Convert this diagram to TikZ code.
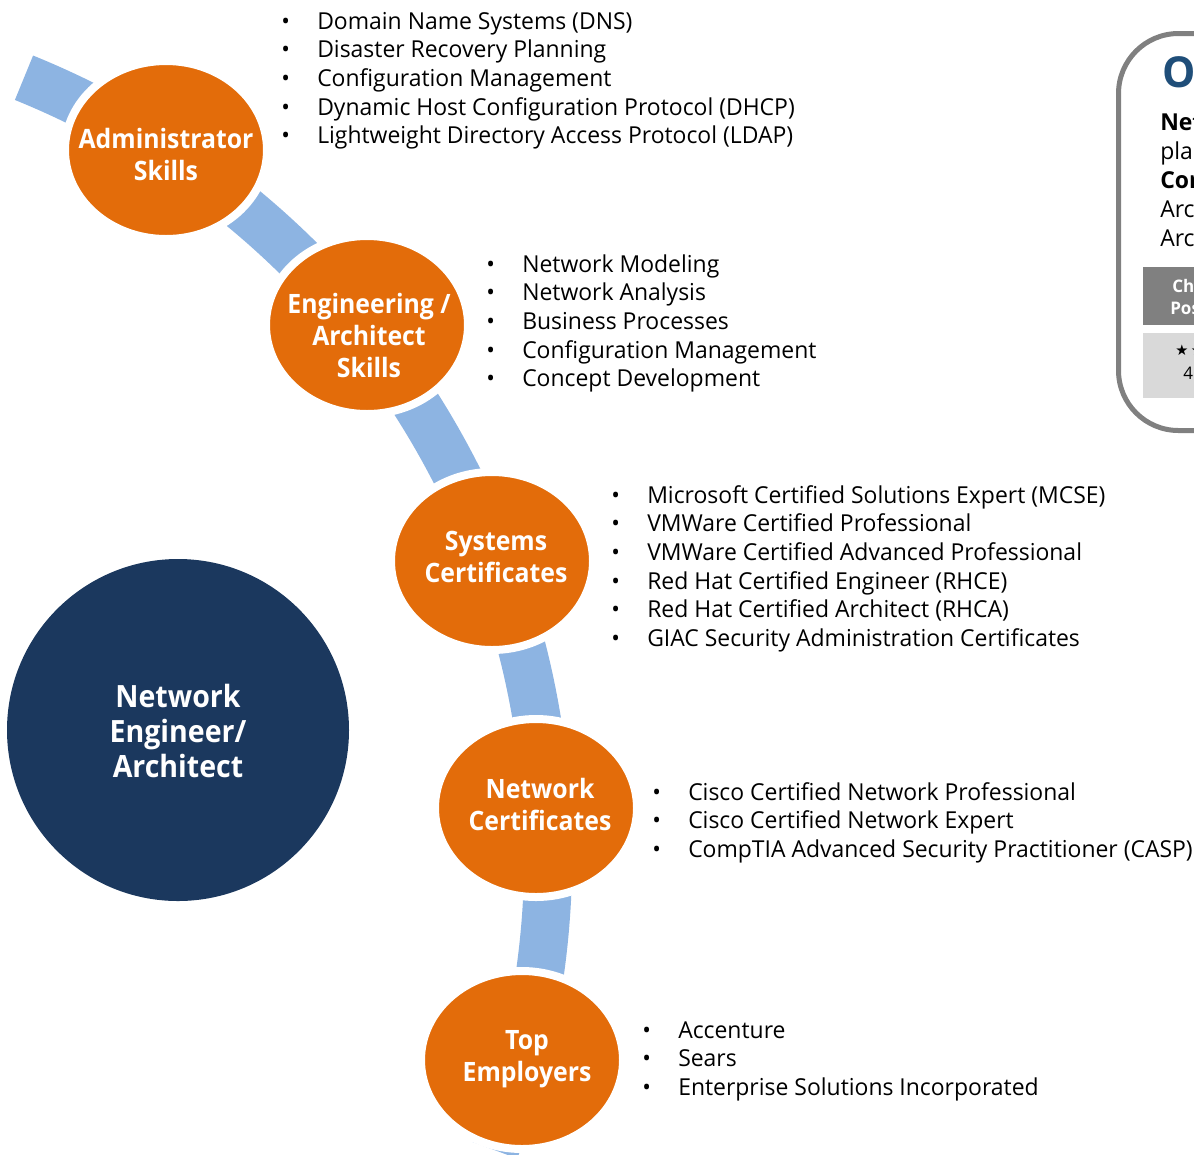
\documentclass[tikz,border=0pt]{standalone}
\usepackage{fontspec}
\setmainfont{Open Sans}[FakeStretch=0.983]
\newfontfamily\lblfam{Open Sans}[FakeStretch=0.93]
\newfontfamily\symfont{DejaVu Sans}
\usetikzlibrary{shapes.geometric,calc}
\definecolor{orng}{RGB}{227,108,10}
\definecolor{bandblue}{RGB}{141,180,226}
\definecolor{navy}{RGB}{27,56,94}
\definecolor{boxgray}{RGB}{128,128,128}
\definecolor{palegray}{RGB}{217,217,217}
\definecolor{titleblue}{RGB}{31,78,121}
\newcommand\listfont{\fontsize{17.5}{21.56}\selectfont}
\newcommand\bl{\makebox[27pt][l]{•}}
\begin{document}
\begin{tikzpicture}[x=0.75pt,y=-0.75pt,
  skill/.style={ellipse, fill=orng, draw=white, line width=6pt,
    minimum width=151.5pt, minimum height=133.5pt, inner sep=0pt},
  skilltext/.style={inner sep=0pt, text=white, align=center,
    font=\lblfam\bfseries\fontsize{20}{24}\selectfont},
  role/.style={circle, fill=navy, minimum size=256.5pt, inner sep=0pt},
  roletext/.style={inner sep=0pt, text=white, align=center,
    font=\lblfam\bfseries\fontsize{23}{26.25}\selectfont},
  band/.style={draw=bandblue, line width=36pt},
  items/.style={anchor=base west, inner sep=0pt, font=\listfont},
  side/.style={anchor=base west, inner sep=0pt, font=\listfont},
  sidehead/.style={anchor=base west, inner sep=0pt, text=white,
    font=\bfseries\fontsize{13}{16.5}\selectfont}]
\useasboundingbox (0,0) rectangle (1194,1154);
\clip (0,0) rectangle (1194,1154);
\coordinate (arcc) at (-292,856);
\draw[band] ($(arcc)+(-67.9:840)$) arc[start angle=-67.9, end angle=20.5, radius=840];

\node[skill] (adm) at (166,150) {};
\node[skill] (eng) at (367,325) {};
\node[skill] (sys) at (492,561) {};
\node[skill] (net) at (536,808) {};
\node[skill] (top) at (522,1060) {};
\node[role] (nea) at (178,730) {};

\node[skilltext] (admt) at (166,154) {Administrator\\Skills};
\node[skilltext] (engt) at (369,335) {Engineering /\\Architect\\Skills};
\node[skilltext] (syst) at (496,557) {Systems\\Certificates};
\node[skilltext] (nett) at (540,804) {Network\\Certificates};
\node[skilltext] (topt) at (527,1059) {Top\\Employers};
\node[roletext] (neat) at (178,731) {Network\\Engineer/\\Architect};

\node[items] (admlist) at (281,29) {\begin{tabular}[t]{@{}l@{}}
\bl Domain Name Systems (DNS)\\
\bl Disaster Recovery Planning\\
\bl Configuration Management\\
\bl Dynamic Host Configuration Protocol (DHCP)\\
\bl Lightweight Directory Access Protocol (LDAP)\end{tabular}};
\node[items] (englist) at (486,272) {\begin{tabular}[t]{@{}l@{}}
\bl Network Modeling\\
\bl Network Analysis\\
\bl Business Processes\\
\bl Configuration Management\\
\bl Concept Development\end{tabular}};
\node[items] (syslist) at (611,503) {\begin{tabular}[t]{@{}l@{}}
\bl Microsoft Certified Solutions Expert (MCSE)\\
\bl VMWare Certified Professional\\
\bl VMWare Certified Advanced Professional\\
\bl Red Hat Certified Engineer (RHCE)\\
\bl Red Hat Certified Architect (RHCA)\\
\bl GIAC Security Administration Certificates\end{tabular}};
\node[items] (netlist) at (652,800) {\begin{tabular}[t]{@{}l@{}}
\bl Cisco Certified Network Professional\\
\bl Cisco Certified Network Expert\\
\bl CompTIA Advanced Security Practitioner (CASP)\end{tabular}};
\node[items] (toplist) at (642,1038) {\begin{tabular}[t]{@{}l@{}}
\bl Accenture\\
\bl Sears\\
\bl Enterprise Solutions Incorporated\end{tabular}};

% cropped overview panel at the right edge
\draw[boxgray, line width=3.75pt, rounded corners=45pt] (1118.5,33.5) rectangle (1500,430.5);
\fill[boxgray] (1143,267) rectangle (1500,325);
\fill[palegray] (1143,333) rectangle (1500,398);
\node[anchor=base west, inner sep=0pt, text=titleblue, font=\bfseries\fontsize{32}{36}\selectfont] (ov) at (1162,87) {O};
\node[side] (s1) at (1160,130) {\bfseries Netw};
\node[side] (s2) at (1160,159) {plan};
\node[side] (s3) at (1160,188) {\bfseries Core};
\node[side] (s4) at (1160,217) {Arch};
\node[side] (s5) at (1160,246) {Arch};
\node[sidehead] (h1) at (1172,292) {Cha};
\node[sidehead] (h2) at (1170,314) {Pos};
\node[anchor=base west, inner sep=0pt, font=\symfont\fontsize{11}{14}\selectfont] (st) at (1175,355) {★\,★};
\node[anchor=base west, inner sep=0pt, font=\fontsize{13}{16}\selectfont] (nm) at (1183,379) {4};
\end{tikzpicture}
\end{document}
